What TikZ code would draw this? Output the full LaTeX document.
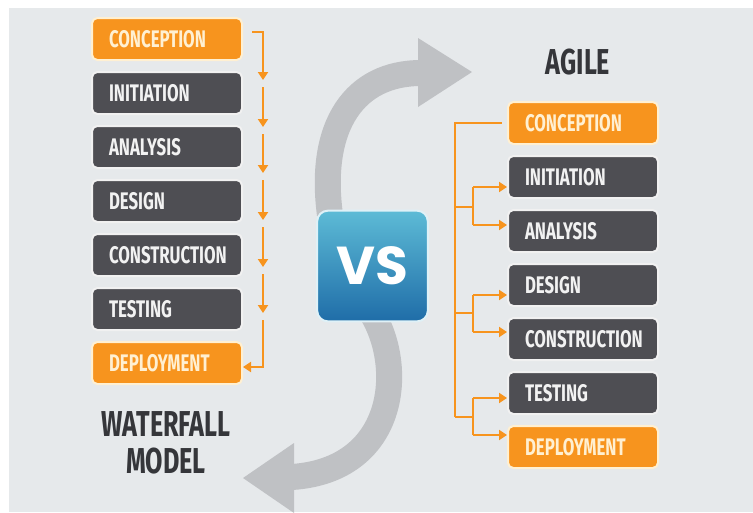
\documentclass[tikz,border=0pt]{standalone}
\usepackage{fontspec}
\usetikzlibrary{positioning,arrows.meta}
\newfontfamily\phasefont[FakeStretch=0.70]{Fira Sans}
\newfontfamily\vsfont{Poppins}
\definecolor{bggray}{HTML}{E6E9EB}
\definecolor{flow}{HTML}{F7941E}
\definecolor{stepgray}{HTML}{4E4E53}
\definecolor{headgray}{HTML}{35363A}
\definecolor{bandgray}{HTML}{BFC1C4}
\definecolor{cream}{HTML}{FFF0D2}
\definecolor{vstop}{HTML}{5DBBD6}
\definecolor{vsbot}{HTML}{1F6DA8}

\begin{document}
\begin{tikzpicture}[x=0.75pt,y=-0.75pt,
   node distance=7.5pt,
   phase/.style={rounded corners=4pt,line width=1.5pt,minimum height=31.5pt,
      text width=87pt,inner xsep=12.75pt,inner ysep=0pt,align=left,
      text height=12.5pt,text depth=0pt,
      font=\phasefont\bfseries\fontsize{18}{18}\selectfont},
   darkphase/.style={phase,fill=stepgray,draw=white!92!stepgray,text=white!95!black},
   keyphase/.style={phase,fill=flow,draw=cream,text=cream},
   heading/.style={text=headgray,align=center,
      font=\phasefont\bfseries\fontsize{27}{27.75}\selectfont},
   flowline/.style={draw=flow,line width=2pt},
   flowarrow/.style={flowline,-{Triangle[length=6pt,width=7.5pt]}},
   band/.style={bandgray,line width=19.5pt}]
\useasboundingbox (0,0) rectangle (753,512);
\fill[white] (0,0) rectangle (753,512);
\fill[bggray] (9,8) rectangle (753,512);

% gray S band
\draw[band] (421,73) .. controls (355,73) and (318,125) .. (330,215);
\fill[bandgray] (418,38) -- (472,72) -- (418,107) -- cycle;
\draw[band] (373,315) .. controls (405,370) and (395,470) .. (292,477);
\fill[bandgray] (294,443) -- (243,478) -- (294,513) -- cycle;

% waterfall
\node[keyphase] (w1) at (167,39) {CONCEPTION};
\node[darkphase,below=of w1] (w2) {INITIATION};
\node[darkphase,below=of w2] (w3) {ANALYSIS};
\node[darkphase,below=of w3] (w4) {DESIGN};
\node[darkphase,below=of w4] (w5) {CONSTRUCTION};
\node[darkphase,below=of w5] (w6) {TESTING};
\node[keyphase,below=of w6] (w7) {DEPLOYMENT};
\node[heading] (wf) at (166,443) {WATERFALL\\MODEL};

\coordinate (s1) at (252,32);
\coordinate (t1) at (263,80);
\draw[flowarrow] (s1) -| (t1);
\foreach \i/\a/\b in {2/87/127, 3/134/173, 4/180/220, 5/227/267, 6/274/313} {
  \coordinate (s\i) at (263,\a);
  \coordinate (t\i) at (263,\b);
  \draw[flowarrow] (s\i) -- (t\i);
}
\coordinate (s7) at (263,320);
\draw[flowarrow] (s7) |- ([yshift=-3pt]w7.east);

% agile
\node[heading] (agile) at (578,62) {AGILE};
\node[keyphase] (a1) at (583,123) {CONCEPTION};
\node[darkphase,below=of a1] (a2) {INITIATION};
\node[darkphase,below=of a2] (a3) {ANALYSIS};
\node[darkphase,below=of a3] (a4) {DESIGN};
\node[darkphase,below=of a4] (a5) {CONSTRUCTION};
\node[darkphase,below=of a5] (a6) {TESTING};
\node[keyphase,below=of a6] (a7) {DEPLOYMENT};

\coordinate (top) at (455,123);
\coordinate (bot) at (455,417);
\draw[flowline] (bot) -- (top) -- ([xshift=-4pt]a1.west);
\foreach \k/\y/\u/\l/\m/\n in {1/207/187/225/a2/a3, 2/313/295/332/a4/a5, 3/417/398/435/a6/a7} {
  \coordinate (j\k) at (455,\y);
  \coordinate (u\k) at (473,\u);
  \coordinate (l\k) at (473,\l);
  \draw[flowline] (j\k) -- (j\k -| u\k);
  \draw[flowline] (u\k) -- (l\k);
  \draw[flowarrow] (u\k) -- (\m.west |- u\k);
  \draw[flowarrow] (l\k) -- (\n.west |- l\k);
}

% vs
\node[draw=white!80!vstop,line width=1.5pt,rounded corners=8pt,
   top color=vstop,bottom color=vsbot,minimum size=83pt,
   text=white,font=\vsfont\bfseries\fontsize{40}{40}\selectfont] (vs) at (372.5,266) {VS};
\end{tikzpicture}
\end{document}
